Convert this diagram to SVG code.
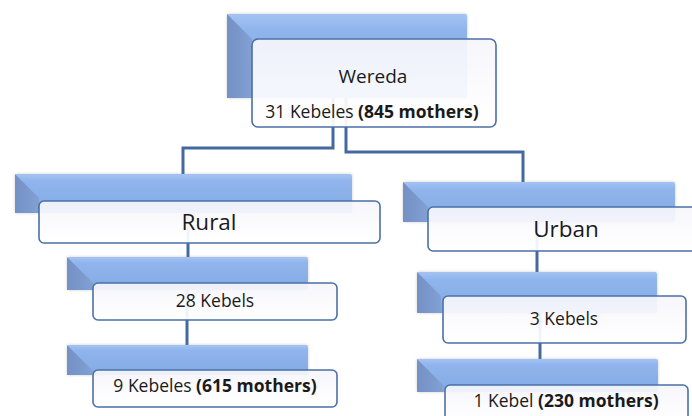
<svg xmlns="http://www.w3.org/2000/svg" width="692" height="416" viewBox="0 0 692 416">
<defs>
<linearGradient id="gb" x1="0" y1="0" x2="0" y2="1">
<stop offset="0" stop-color="#a4c3f2"/>
<stop offset="0.18" stop-color="#90b5ed"/>
<stop offset="1" stop-color="#84aae4"/>
</linearGradient>
<linearGradient id="gl" x1="0" y1="0" x2="1" y2="0">
<stop offset="0" stop-color="#7490c4"/>
<stop offset="1" stop-color="#82a0d4"/>
</linearGradient>
<linearGradient id="gf" x1="0" y1="0" x2="0" y2="1">
<stop offset="0" stop-color="#f5f5fb"/>
<stop offset="0.5" stop-color="#fbfbfe"/>
<stop offset="1" stop-color="#ffffff"/>
</linearGradient>
<filter id="sh" x="-5%" y="-20%" width="110%" height="140%">
<feDropShadow dx="0" dy="0" stdDeviation="1.5" flood-color="#8a8a8a" flood-opacity="0.45"/>
</filter>
</defs>
<style>
.back{fill:url(#gb);filter:url(#sh)}
.bev{fill:url(#gl)}
.front{fill:url(#gf);fill-opacity:0.93;stroke:#4a70a8;stroke-width:1.6}
.con{fill:none;stroke:#44699f;stroke-width:3}
text{font-family:"Open Sans","Noto Sans","Liberation Sans",sans-serif;fill:#1a1a1a;text-anchor:middle}
.b{font-weight:bold}
</style>
<rect width="692" height="416" fill="#ffffff"/>
<g id="connectors">
<path class="con" d="M333 98 V148 H183 V174"/>
<path class="con" d="M346 98 V152 H523 V182"/>
<path class="con" d="M188 213 V257"/>
<path class="con" d="M187 290 V345"/>
<path class="con" d="M537 222 V272"/>
<path class="con" d="M540 313 V359"/>
</g>
<g id="wereda">
<rect class="back" x="227" y="14" width="240" height="84" rx="2"/>
<path class="bev" d="M227 14 L252 39 L252 98 L227 98 Z"/>
<rect class="front" x="252" y="39" width="244" height="88" rx="6"/>
<text x="373" y="83" font-size="19">Wereda</text>
<text x="372" y="118" font-size="17.5">31 Kebeles <tspan class="b">(845 mothers)</tspan></text>
</g>
<g id="rural">
<rect class="back" x="15" y="174" width="337" height="39" rx="2"/>
<path class="bev" d="M15 174 L39 198 L39 213 L15 213 Z"/>
<rect class="front" x="39" y="201" width="341" height="42" rx="5"/>
<text x="209" y="230" font-size="22.5">Rural</text>
</g>
<g id="urban">
<rect class="back" x="403" y="182" width="272" height="40" rx="2"/>
<path class="bev" d="M403 182 L428 207 L428 222 L403 222 Z"/>
<rect class="front" x="428" y="207" width="272" height="44" rx="5"/>
<text x="566" y="237" font-size="22.5">Urban</text>
</g>
<g id="rural-kebels">
<rect class="back" x="67" y="257" width="241" height="33" rx="2"/>
<path class="bev" d="M67 257 L93 283 L93 290 L67 290 Z"/>
<rect class="front" x="93" y="283" width="244" height="37" rx="5"/>
<text x="215" y="307" font-size="17.5">28 Kebels</text>
</g>
<g id="rural-selected">
<rect class="back" x="67" y="345" width="241" height="30" rx="2"/>
<path class="bev" d="M67 345 L92 370 L92 375 L67 375 Z"/>
<rect class="front" x="93" y="370" width="244" height="37" rx="5"/>
<text x="215" y="392" font-size="17.5">9 Kebeles <tspan class="b">(615 mothers)</tspan></text>
</g>
<g id="urban-kebels">
<rect class="back" x="417" y="272" width="240" height="41" rx="2"/>
<path class="bev" d="M417 272 L441 296 L441 313 L417 313 Z"/>
<rect class="front" x="443" y="296" width="243" height="47" rx="5"/>
<text x="564" y="325" font-size="17.5">3 Kebels</text>
</g>
<g id="urban-selected">
<rect class="back" x="417" y="359" width="241" height="33" rx="2"/>
<path class="bev" d="M417 359 L443 385 L443 392 L417 392 Z"/>
<rect class="front" x="445" y="385" width="243" height="40" rx="5"/>
<text x="566" y="407" font-size="17.5">1 Kebel <tspan class="b">(230 mothers)</tspan></text>
</g>
</svg>
